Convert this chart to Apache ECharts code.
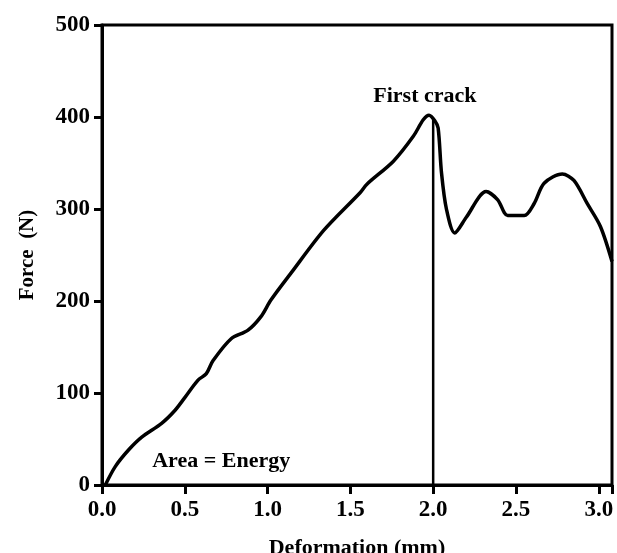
<!DOCTYPE html>
<html>
<head>
<meta charset="utf-8">
<script src="https://cdn.jsdelivr.net/npm/echarts@6/dist/echarts.min.js"></script>
<style>
html,body{margin:0;padding:0;background:#fff;}
#chart{width:617px;height:553px;}
</style>
</head>
<body>
<div id="chart"></div>
<script>
var deformation = [0.02,0.08,0.16,0.24,0.36,0.44,0.50,0.58,0.63,0.67,0.78,0.88,0.96,1.02,1.14,1.34,1.56,1.60,1.76,1.88,1.94,1.975,2.01,2.03,2.05,2.08,2.13,2.20,2.32,2.39,2.45,2.55,2.61,2.67,2.78,2.85,2.93,3.01,3.08];
var force = [0,20,38,52,67,81,95,114,121,135,159,168,183,201,230,277,318,327,352,379,397,402,396,388,340,300,274,291,319,310,293,293,306,328,338,331,306,281,243];
var crackX = [2.0,2.0];
var crackY = [0,398];
var annotationText = ['First crack','Area = Energy'];
var annotationX = [1.95,0.72];
var annotationY = [422,26];

var fontFam = '"Liberation Serif","DejaVu Serif",serif';
var curve = deformation.map(function(d,i){return [d, force[i]];});
var crack = crackX.map(function(d,i){return [d, crackY[i]];});
var notes = annotationText.map(function(t,i){return {name:t, value:[annotationX[i], annotationY[i]]};});

var chart = echarts.init(document.getElementById('chart'));
chart.setOption({
  animation:false,
  backgroundColor:'#fff',
  grid:{left:102,right:5,top:25,bottom:68,show:true,borderColor:'#000',borderWidth:3,backgroundColor:'transparent',outerBoundsMode:'none',containLabel:false},
  xAxis:{
    type:'value',min:0,max:3.08,interval:0.5,
    name:'Deformation (mm)',nameLocation:'middle',nameGap:52,
    nameTextStyle:{fontFamily:fontFam,fontWeight:'bold',fontSize:22,color:'#000'},
    axisLine:{show:true,lineStyle:{color:'#000',width:3}},
    axisTick:{show:true,length:9,lineStyle:{color:'#000',width:3}},
    splitLine:{show:false},
    axisLabel:{margin:14,fontFamily:fontFam,fontWeight:'bold',fontSize:23,color:'#000',
      formatter:function(v){var r=Math.round(v*2)/2; return Math.abs(r-v)<1e-6 ? v.toFixed(1) : '';}}
  },
  yAxis:{
    type:'value',min:0,max:500,interval:100,
    name:'Force  (N)',nameLocation:'middle',nameGap:64,
    nameTextStyle:{fontFamily:fontFam,fontWeight:'bold',fontSize:21,color:'#000'},
    axisLine:{show:true,lineStyle:{color:'#000',width:3}},
    axisTick:{show:true,length:8,lineStyle:{color:'#000',width:3}},
    splitLine:{show:false},
    axisLabel:{margin:12,fontFamily:fontFam,fontWeight:'bold',fontSize:23,color:'#000'}
  },
  series:[
    {type:'line',data:curve,showSymbol:false,smooth:0.3,lineStyle:{color:'#000',width:3.5},z:3},
    {type:'line',data:crack,showSymbol:false,lineStyle:{color:'#000',width:2.5},z:2},
    {type:'scatter',data:notes,symbolSize:0,z:4,itemStyle:{opacity:1,color:'#000'},
      label:{show:true,position:'inside',formatter:function(p){return p.name;},
        fontFamily:fontFam,fontWeight:'bold',fontSize:22,color:'#000',opacity:1}}
  ]
});
</script>
</body>
</html>
